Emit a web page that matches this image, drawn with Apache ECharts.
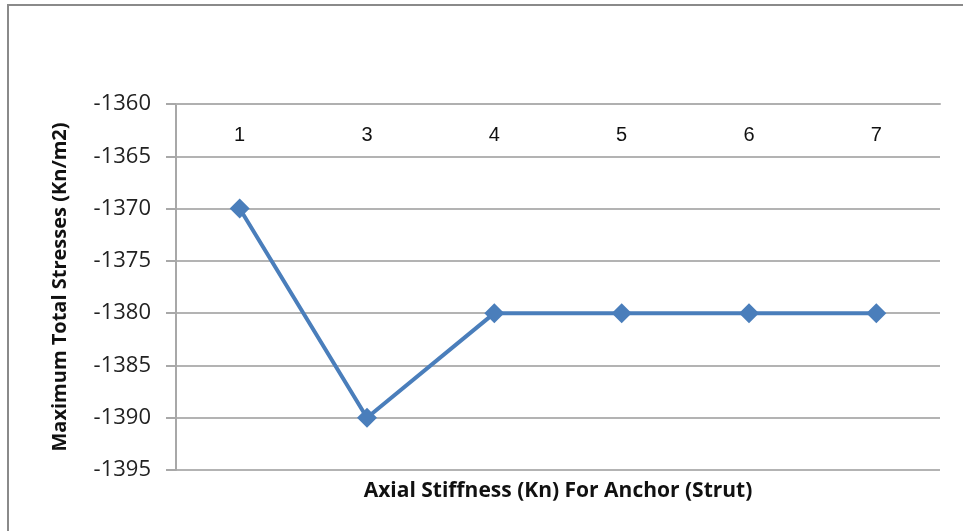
<!DOCTYPE html>
<html>
<head>
<meta charset="utf-8">
<script src="https://cdn.jsdelivr.net/npm/echarts@6/dist/echarts.min.js"></script>
<style>
  html, body { margin: 0; padding: 0; background: #fff; }
  #chart { width: 963px; height: 531px; }
</style>
</head>
<body>
<div id="chart"></div>
<script>
// Axial stiffness cases and the resulting maximum total stress
const categories = ['1', '3', '4', '5', '6', '7'];
const maxTotalStress = [-1370, -1390, -1380, -1380, -1380, -1380];
const yTicks = { min: -1395, max: -1360, step: 5 };

const yTitle = 'Maximum Total Stresses (Kn/m2)';
const xTitle = 'Axial Stiffness (Kn) For Anchor (Strut)';

const chart = echarts.init(document.getElementById('chart'), null, { renderer: 'canvas' });

const gridLeft = 176, gridRight = 23, gridTop = 104, gridBottom = 61;

chart.setOption({
  backgroundColor: '#ffffff',
  animation: false,
  grid: { left: gridLeft, right: gridRight, top: gridTop, bottom: gridBottom },
  xAxis: {
    type: 'category',
    data: categories,
    position: 'top',
    boundaryGap: true,
    axisLine: { show: true, lineStyle: { color: '#b0b0b0', width: 2 } },
    axisTick: { show: false },
    splitLine: { show: false },
    axisLabel: {
      inside: true,
      margin: 21,
      color: '#111',
      fontFamily: 'Liberation Sans',
      fontSize: 20
    }
  },
  yAxis: {
    type: 'value',
    min: yTicks.min,
    max: yTicks.max,
    interval: yTicks.step,
    name: yTitle,
    nameLocation: 'middle',
    nameGap: 106,
    nameRotate: 90,
    nameTextStyle: { color: '#111', fontFamily: 'Open Sans', fontWeight: 'bold', fontSize: 20 },
    axisLine: { show: true, lineStyle: { color: '#a8a8a8', width: 2 } },
    axisTick: { show: true, length: 10, lineStyle: { color: '#a8a8a8', width: 2 } },
    splitLine: { show: true, lineStyle: { color: '#b3b3b3', width: 2 } },
    axisLabel: {
      margin: 25,
      color: '#222',
      fontFamily: 'Open Sans',
      fontSize: 22,
      formatter: v => String(v)
    }
  },
  series: [{
    type: 'line',
    data: maxTotalStress,
    symbol: 'diamond',
    symbolSize: 20,
    lineStyle: { color: '#4a7ebb', width: 4 },
    itemStyle: { color: '#4a7ebb' }
  }],
  graphic: [
    {
      type: 'rect',
      shape: { x: 8, y: 5, width: 1000, height: 600 },
      style: { fill: 'none', stroke: '#8a8a8a', lineWidth: 2 },
      silent: true
    },
    {
      type: 'text',
      x: gridLeft + (963 - gridLeft - gridRight) / 2,
      y: 491,
      style: {
        text: xTitle,
        fill: '#111',
        font: 'bold 21px "Open Sans"',
        textAlign: 'center',
        textVerticalAlign: 'middle'
      }
    }
  ]
});
</script>
</body>
</html>
